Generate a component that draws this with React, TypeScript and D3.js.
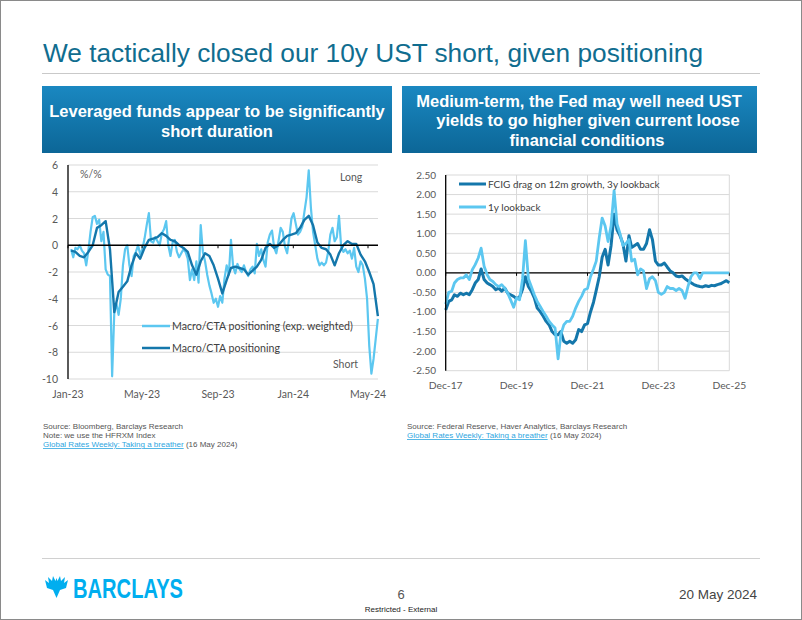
import React from 'react';
import * as d3 from 'd3';

// ---------------- Left chart data ----------------
const leftYTicks = [6, 4, 2, 0, -2, -4, -6, -8, -10];
const leftXTickLabels = ['Jan-23', 'May-23', 'Sep-23', 'Jan-24', 'May-24'];
const leftXTickDates = ['2023-01-01', '2023-05-01', '2023-09-01', '2024-01-01', '2024-05-01'];
const leftStart = '2023-01-06';
// weekly: Macro/CTA positioning
const leftDarkValues = [
  -0.4, -0.5, -0.8, -0.9, -0.5, 0.0, 1.3, 1.5, 1.8, -0.3,
  -5.0, -3.5, -3.1, -2.7, -1.5, -0.6, -1.0, -0.2, 0.4, 0.5,
  0.6, 0.9, 0.7, 0.4, 0.3, 0.0, -0.2, -0.5, -1.5, -2.2,
  -1.2, -0.6, -0.8, -1.5, -2.5, -3.6, -2.6, -1.7, -1.6, -1.7,
  -1.8, -2.2, -1.9, -1.6, -1.1, -0.2, 0.1, -0.2, 0.0, 0.4,
  0.7, 0.8, 0.9, 1.3, 1.9, 2.2, 1.5, 0.2, -0.2, -0.3,
  -0.7, -1.5, -0.6, 0.0, 0.3, 0.1, 0.1, -0.7, -1.2, -2.0,
  -2.9, -5.3,
];
// half-weekly: Macro/CTA positioning (exp. weighted)
const leftLightValues = [
  -0.3, -0.9, -0.2, -0.3, 0.0, -0.4, -0.6, -1.5, -0.4, 1.0,
  2.1, 2.2, 1.6, 1.9, 0.3, 1.0, -1.8, -2.2, -2.3, -9.8,
  -5.0, -4.4, -5.2, -4.0, -1.5, -0.3, 0.0, -1.5, -2.3, -0.8,
  -0.5, 0.0, -0.7, -0.3, 0.5, 1.5, 2.4, 0.3, 0.2, 0.6,
  0.3, 0.0, 0.9, 1.2, 1.8, 0.0, -0.8, 0.2, 0.4, -0.5,
  -0.9, -0.6, -0.3, -0.5, -1.0, -2.6, -1.8, -2.6, -1.2, -2.8,
  1.5, -0.5, -1.2, -2.2, -3.0, -3.6, -4.3, -4.0, -4.6, -3.8,
  -4.3, -2.5, -1.5, -2.2, 0.4, -1.6, -2.1, -1.4, -1.8, -2.0,
  -1.5, -2.0, -2.3, -1.8, -1.6, -2.1, 0.1, -0.8, -0.3, -1.1,
  -1.6, 0.2, 0.8, 1.1, -0.2, -0.6, 0.3, 1.3, 1.0, -0.1,
  -0.6, 0.6, 2.0, 2.4, 1.6, 0.8, 1.0, 1.4, 2.5, 3.6,
  5.6, 2.8, 1.0, 0.0, -1.0, -1.5, -1.3, -1.5, -1.3, -0.5,
  0.8, 1.3, 0.3, 0.6, 2.2, -0.1, -0.5, -0.3, -0.6, -0.4,
  -1.0, -0.2, -1.6, -2.0, -1.2, -1.5, -2.5, -4.0, -7.5, -9.6,
  -8.5, -7.0, -5.5,
];
const leftSeriesNames = ['Macro/CTA positioning (exp. weighted)', 'Macro/CTA positioning'];

// ---------------- Right chart data ----------------
const rightYTicks = [2.5, 2.0, 1.5, 1.0, 0.5, 0.0, -0.5, -1.0, -1.5, -2.0, -2.5];
const rightXTickLabels = ['Dec-17', 'Dec-19', 'Dec-21', 'Dec-23', 'Dec-25'];
const rightXTickDates = ['2017-12-01', '2019-12-01', '2021-12-01', '2023-12-01', '2025-12-01'];
const rightStart = '2017-12-01';
// monthly: FCIG drag on 12m growth, 3y lookback
const rightDarkValues = [
  -0.95, -0.73, -0.69, -0.56, -0.6, -0.52, -0.56, -0.52, -0.56, -0.43,
  -0.26, -0.17, 0.1, -0.17, -0.26, -0.3, -0.35, -0.43, -0.39, -0.47,
  -0.39, -0.52, -0.56, -0.6, -0.66, -0.62, -0.42, -0.1, -0.35, -0.47,
  -0.64, -0.9, -0.99, -1.11, -1.24, -1.33, -1.5, -1.58, -1.58, -1.5,
  -1.75, -1.8, -1.75, -1.8, -1.71, -1.45, -1.5, -1.33, -1.3, -1.0,
  -0.75, -0.45, -0.1, 0.4, 0.6, 0.2, 0.7, 1.5, 1.1, 0.95,
  0.75, 0.3, 0.95, 0.65, 0.7, 0.75, 0.6, 0.6, 0.75, 1.1,
  0.85, 0.3, 0.2, 0.2, 0.25, 0.15, 0.05, 0.0, -0.08, -0.1,
  -0.08, -0.15, -0.2, -0.25, -0.3, -0.33, -0.35, -0.36, -0.33, -0.35,
  -0.32, -0.33, -0.3, -0.28, -0.24, -0.2, -0.25,
];
// monthly: 1y lookback
const rightLightValues = [
  -0.8, -0.5, -0.47, -0.26, -0.17, -0.13, -0.13, -0.05, -0.17, 0.08,
  0.21, 0.38, 0.63, 0.17, -0.05, -0.17, -0.22, -0.3, -0.35, -0.3,
  -0.39, -0.52, -0.69, -0.88, -0.64, -0.69, -0.15, 0.82, -0.15, -0.35,
  -0.56, -0.73, -0.86, -0.99, -1.11, -1.24, -1.33, -1.41, -2.2, -1.58,
  -1.33, -1.24, -1.24, -1.11, -0.9, -0.73, -0.6, -0.43, -0.4, -0.1,
  0.1, 0.3, 0.9, 1.4, 1.2, 0.8, 1.2, 2.1, 1.25, 1.0,
  0.7, 0.75, 0.85, 0.3, 0.35, -0.05, 0.1, 0.05, -0.4, -0.15,
  -0.1, -0.2, -0.5, -0.55, -0.5, -0.35, -0.4, -0.4, -0.45, -0.4,
  -0.45, -0.65, -0.35, -0.1, 0.0, 0.0, -0.15, 0.0, 0.0, 0.0,
  0.0, 0.0, 0.0, 0.0, 0.0, 0.0, 0.0,
];
const rightSeriesNames = ['FCIG drag on 12m growth, 3y lookback', '1y lookback'];

// ---------------- Styles ----------------
const DARK = '#1477ab';
const LIGHT = '#5cc7f0';
const GRID = '#d9d9d9';
const TICK_TXT = '#595959';
const CHART_FONT = 'Lato, "Open Sans", sans-serif';
const SLIDE_FONT = '"Liberation Sans", Arial, sans-serif';

const parse = d3.timeParse('%Y-%m-%d');

export default function App() {
  // Left scales
  const xL = d3.scaleTime().domain([new Date(2023, 0, 1), new Date(2024, 4, 1)]).range([68, 368]);
  const yL = d3.scaleLinear().domain([-10, 6]).range([379, 165]);
  const lStart = parse(leftStart) as Date;
  const leftDark = leftDarkValues.map((v, i) => ({ d: d3.timeDay.offset(lStart, 7 * i), v }));
  const leftLight = leftLightValues.map((v, i) => ({ d: d3.timeHour.offset(lStart, 84 * i), v }));
  const lineL = d3.line<{ d: Date; v: number }>().x((p) => xL(p.d)).y((p) => yL(p.v));
  const lX0 = 68, lX1 = 378;

  // Right scales
  const xR = d3.scaleTime().domain([new Date(2017, 11, 1), new Date(2025, 11, 1)]).range([445.7, 729.3]);
  const yR = d3.scaleLinear().domain([-2.5, 2.5]).range([370.7, 175]);
  const rStart = parse(rightStart) as Date;
  const rightDark = rightDarkValues.map((v, i) => ({ d: d3.timeMonth.offset(rStart, i), v }));
  const rightLight = rightLightValues.map((v, i) => ({ d: d3.timeMonth.offset(rStart, i), v }));
  const lineR = d3.line<{ d: Date; v: number }>().x((p) => xR(p.d)).y((p) => yR(p.v));
  const rX0 = 445.7, rX1 = 729.3;

  return (
    <svg width={802} height={620} style={{ position: 'absolute', left: 0, top: 0, display: 'block', background: '#fff' }}>
      <defs>
        <linearGradient id="hdr" x1="0" y1="0" x2="0" y2="1">
          <stop offset="0%" stopColor="#1a88c1" />
          <stop offset="100%" stopColor="#0c6697" />
        </linearGradient>
      </defs>
      <rect x={0.5} y={0.5} width={801} height={619} fill="#fff" stroke="#8a8a8a" strokeWidth={1} />

      {/* Title */}
      <text x={43} y={62} fontFamily={SLIDE_FONT} fontSize={26} fill="#106d8f" textLength={660} lengthAdjust="spacingAndGlyphs">
        We tactically closed our 10y UST short, given positioning
      </text>
      <line x1={42} x2={760} y1={73.5} y2={73.5} stroke="#c9c9c9" strokeWidth={1} />

      {/* Header boxes */}
      <rect x={42} y={86} width={350} height={67} fill="url(#hdr)" />
      <rect x={402} y={86} width={355} height={67} fill="url(#hdr)" />
      <g fontFamily={SLIDE_FONT} fontWeight="bold" fontSize={16.5} fill="#fff" textAnchor="middle">
        <text x={217} y={117}>Leveraged funds appear to be significantly</text>
        <text x={217} y={137}>short duration</text>
        <text x={579} y={107}>Medium-term, the Fed may well need UST</text>
        <text x={588} y={126}>yields to go higher given current loose</text>
        <text x={587} y={146}>financial conditions</text>
      </g>

      {/* ---------- Left chart ---------- */}
      <g fontFamily={CHART_FONT}>
        {leftYTicks.map((t) => (
          <line key={'lg' + t} x1={lX0} x2={lX1} y1={yL(t)} y2={yL(t)} stroke={GRID} strokeWidth={1} />
        ))}
        {leftYTicks.map((t) => (
          <text key={'ly' + t} x={58} y={yL(t) + 4} fontSize={10.5} fill={TICK_TXT} textAnchor="end">{t}</text>
        ))}
        {leftXTickDates.map((ds, i) => (
          <text key={'lx' + ds} x={xL(parse(ds) as Date)} y={398} fontSize={10.5} fill={TICK_TXT} textAnchor="middle">
            {leftXTickLabels[i]}
          </text>
        ))}
        <path d={lineL(leftLight) || ''} fill="none" stroke={LIGHT} strokeWidth={2.2} strokeLinejoin="round" />
        <path d={lineL(leftDark) || ''} fill="none" stroke={DARK} strokeWidth={2.4} strokeLinejoin="round" />
        <line x1={lX0} x2={lX1} y1={yL(0)} y2={yL(0)} stroke="#000" strokeWidth={1.3} />
        {leftXTickDates.map((ds) => (
          <line key={'lt' + ds} x1={xL(parse(ds) as Date)} x2={xL(parse(ds) as Date)} y1={yL(0)} y2={yL(0) + 3} stroke="#000" strokeWidth={1} />
        ))}
        <line x1={68} x2={68} y1={165} y2={379} stroke="#000" strokeWidth={1.3} />
        <text x={80} y={178} fontSize={10.5} fill={TICK_TXT}>%/%</text>
        <text x={340} y={181} fontSize={10.5} fill={TICK_TXT}>Long</text>
        <text x={333} y={368} fontSize={10.5} fill={TICK_TXT}>Short</text>
        {/* legend */}
        <line x1={142} x2={170} y1={326} y2={326} stroke={LIGHT} strokeWidth={2.5} />
        <text x={172} y={330} fontSize={10.6} fill="#404040">{leftSeriesNames[0]}</text>
        <line x1={142} x2={170} y1={348} y2={348} stroke={DARK} strokeWidth={2.5} />
        <text x={172} y={352} fontSize={10.6} fill="#404040">{leftSeriesNames[1]}</text>
      </g>

      {/* ---------- Right chart ---------- */}
      <g fontFamily={CHART_FONT}>
        {rightYTicks.map((t) => (
          <line key={'rg' + t} x1={rX0} x2={rX1} y1={yR(t)} y2={yR(t)} stroke={GRID} strokeWidth={1} />
        ))}
        {rightXTickDates.slice(1).map((ds) => (
          <line key={'rv' + ds} x1={xR(parse(ds) as Date)} x2={xR(parse(ds) as Date)} y1={175} y2={370.7} stroke={GRID} strokeWidth={1} />
        ))}
        {rightYTicks.map((t) => (
          <text key={'ry' + t} x={436} y={yR(t) + 3.5} fontSize={10} fill={TICK_TXT} textAnchor="end">{t.toFixed(2)}</text>
        ))}
        {rightXTickDates.map((ds, i) => (
          <text key={'rx' + ds} x={xR(parse(ds) as Date)} y={389} fontSize={10.3} fill={TICK_TXT} textAnchor="middle">
            {rightXTickLabels[i]}
          </text>
        ))}
        <line x1={rX0} x2={rX1} y1={yR(0)} y2={yR(0)} stroke="#000" strokeWidth={1.3} />
        {rightXTickDates.map((ds) => (
          <line key={'rt' + ds} x1={xR(parse(ds) as Date)} x2={xR(parse(ds) as Date)} y1={yR(0)} y2={yR(0) + 3} stroke="#000" strokeWidth={1} />
        ))}
        <path d={lineR(rightDark) || ''} fill="none" stroke={DARK} strokeWidth={3} strokeLinejoin="round" />
        <path d={lineR(rightLight) || ''} fill="none" stroke={LIGHT} strokeWidth={2.8} strokeLinejoin="round" />
        <line x1={rX0} x2={rX0} y1={175} y2={370.7} stroke="#000" strokeWidth={1.3} />
        {/* legend */}
        <line x1={459} x2={486} y1={184} y2={184} stroke={DARK} strokeWidth={3} />
        <text x={488} y={187.5} fontSize={10} fill="#404040">{rightSeriesNames[0]}</text>
        <line x1={459} x2={486} y1={207} y2={207} stroke={LIGHT} strokeWidth={3} />
        <text x={488} y={210.5} fontSize={10} fill="#404040">{rightSeriesNames[1]}</text>
      </g>

      {/* Sources */}
      <g fontFamily={SLIDE_FONT} fontSize={8} fill="#555">
        <text x={43} y={429}>Source:  Bloomberg, Barclays Research</text>
        <text x={43} y={438}>Note: we use the HFRXM Index</text>
        <text x={43} y={447}>
          <tspan fill="#2ea6df" textDecoration="underline">Global Rates Weekly: Taking a breather</tspan>
          <tspan> (16 May 2024)</tspan>
        </text>
        <text x={407} y={429}>Source: Federal Reserve, Haver Analytics, Barclays Research</text>
        <text x={407} y={438}>
          <tspan fill="#2ea6df" textDecoration="underline">Global Rates Weekly: Taking a breather</tspan>
          <tspan> (16 May 2024)</tspan>
        </text>
      </g>

      {/* Footer */}
      <line x1={42} x2={760} y1={558.5} y2={558.5} stroke="#d0d0d0" strokeWidth={1} />
      <g fill="#00aeef">
        <path d="M56.5,598 L53,590 L47,588 L45,580 L49,583 L48,577 L52,581 L53,576 L55.5,581 L56.5,578 L57.5,581 L60,576 L61,581 L65,577 L64,583 L68,580 L66,588 L60,590 Z" />
      </g>
      <text x={73} y={598} fontFamily={SLIDE_FONT} fontWeight="bold" fontSize={27} fill="#00aeef" textLength={110} lengthAdjust="spacingAndGlyphs">
        BARCLAYS
      </text>
      <text x={401} y={599} fontFamily={SLIDE_FONT} fontSize={13} fill="#555" textAnchor="middle">6</text>
      <text x={401} y={612} fontFamily={SLIDE_FONT} fontSize={8} fill="#222" textAnchor="middle">Restricted - External</text>
      <text x={757} y={599} fontFamily={SLIDE_FONT} fontSize={13.5} fill="#444" textAnchor="end">20 May 2024</text>
    </svg>
  );
}
